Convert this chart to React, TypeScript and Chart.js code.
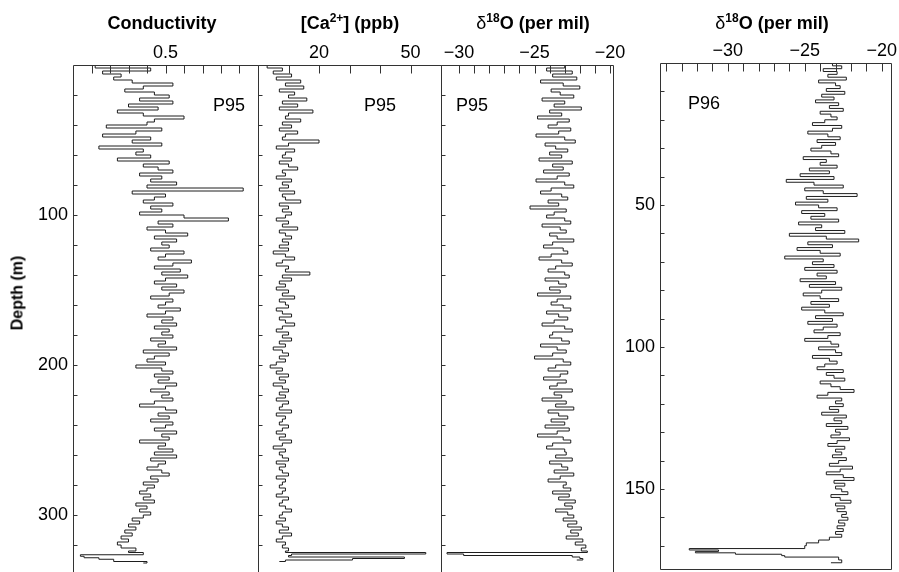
import React, { useEffect, useRef } from 'react';
import { Chart, registerables } from 'chart.js';

Chart.register(...registerables);
Chart.defaults.font.family = '"Liberation Sans", Arial, Helvetica, sans-serif';

const W = 899;
const H = 572;
const FONT = '"Liberation Sans", Arial, Helvetica, sans-serif';
const LINE = '#1e1e1e';

// ---------------- DATA ----------------
// Sampling step (m) of the main part of each P95 record
const p95Step = 2;

// Conductivity, P95, depths 0..318 m every 2 m
const condMain = [
  0.31, 0.46, 0.33, 0.38, 0.36, 0.41, 0.52, 0.44, 0.39, 0.47,
  0.51, 0.43, 0.52, 0.40, 0.48, 0.37, 0.44, 0.55, 0.47, 0.45,
  0.34, 0.49, 0.42, 0.33, 0.46, 0.41, 0.49, 0.32, 0.44, 0.42,
  0.46, 0.37, 0.51, 0.44, 0.48, 0.52, 0.43, 0.49, 0.46, 0.53,
  0.45, 0.71, 0.41, 0.50, 0.47, 0.44, 0.52, 0.46, 0.49, 0.43,
  0.55, 0.67, 0.48, 0.52, 0.45, 0.50, 0.56, 0.47, 0.53, 0.49,
  0.51, 0.46, 0.55, 0.50, 0.48, 0.57, 0.52, 0.47, 0.54, 0.49,
  0.56, 0.50, 0.47, 0.53, 0.49, 0.55, 0.51, 0.46, 0.52, 0.50,
  0.48, 0.54, 0.50, 0.45, 0.52, 0.49, 0.53, 0.47, 0.51, 0.49,
  0.52, 0.46, 0.50, 0.48, 0.53, 0.44, 0.51, 0.47, 0.45, 0.50,
  0.42, 0.49, 0.52, 0.47, 0.51, 0.48, 0.53, 0.50, 0.46, 0.51,
  0.49, 0.52, 0.47, 0.43, 0.50, 0.53, 0.48, 0.51, 0.46, 0.52,
  0.50, 0.47, 0.53, 0.49, 0.51, 0.43, 0.50, 0.48, 0.52, 0.47,
  0.53, 0.46, 0.50, 0.48, 0.45, 0.49, 0.51, 0.46, 0.48, 0.44,
  0.47, 0.45, 0.43, 0.46, 0.44, 0.47, 0.42, 0.45, 0.43, 0.46,
  0.44, 0.41, 0.43, 0.40, 0.42, 0.39, 0.41, 0.38, 0.40, 0.37,
];
const condBottomDepth = [320, 322, 324, 325, 326.5, 327.5, 328.5, 329.5, 331, 332];
const condBottomValue = [0.38, 0.42, 0.40, 0.44, 0.27, 0.28, 0.32, 0.36, 0.45, 0.44];

// [Ca2+] (ppb), P95, depths 0..318 m every 2 m
const caMain = [
  3, 8, 5, 11, 6, 14, 9, 15, 7, 12,
  10, 16, 8, 13, 7, 18, 10, 9, 14, 8,
  11, 7, 13, 9, 8, 20, 10, 6, 12, 9,
  8, 11, 7, 10, 13, 8, 9, 6, 11, 8,
  10, 7, 12, 8, 9, 14, 7, 10, 8, 11,
  9, 6, 10, 8, 13, 7, 9, 11, 8, 10,
  7, 10, 5, 9, 12, 8, 6, 10, 9, 17,
  8, 11, 7, 9, 6, 10, 8, 12, 7, 9,
  10, 6, 8, 11, 7, 9, 12, 8, 6, 10,
  8, 11, 7, 9, 5, 8, 10, 7, 9, 6,
  4, 8, 6, 10, 7, 9, 5, 8, 10, 7,
  9, 6, 10, 8, 7, 11, 6, 9, 8, 7,
  10, 8, 6, 9, 7, 11, 8, 5, 9, 7,
  8, 10, 6, 9, 7, 8, 10, 6, 9, 8,
  7, 9, 8, 6, 10, 8, 7, 9, 11, 8,
  7, 9, 6, 8, 10, 7, 11, 8, 6, 9,
];
const caBottomDepth = [320, 322, 324, 325, 326, 327, 328, 329, 330, 331];
const caBottomValue = [8, 10, 9, 55, 11, 10, 48, 31, 9, 7];

// d18O (per mil), P95, depths 0..318 m every 2 m
const d18P95Main = [
  -23.0, -24.2, -22.5, -23.8, -22.2, -24.6, -23.1, -22.0, -23.9, -23.3,
  -22.4, -24.5, -23.0, -23.7, -21.9, -24.0, -23.2, -24.8, -22.7, -23.5,
  -24.1, -22.6, -23.4, -24.9, -23.0, -22.3, -24.3, -23.6, -22.8, -24.0,
  -23.2, -24.7, -22.5, -23.8, -23.1, -24.4, -22.7, -23.5, -24.9, -23.0,
  -22.4, -23.9, -24.6, -23.2, -22.8, -24.1, -23.4, -25.3, -22.9, -23.7,
  -24.2, -23.0, -22.6, -24.5, -23.3, -22.9, -24.0, -23.5, -22.4, -23.8,
  -24.4, -23.1, -22.8, -23.9, -24.7, -23.2, -22.5, -23.6, -24.1, -23.0,
  -22.7, -24.3, -23.4, -22.9, -24.0, -23.3, -24.8, -22.6, -23.5, -23.9,
  -23.1, -22.6, -24.2, -23.4, -22.8, -23.7, -24.5, -23.0, -22.5, -23.8,
  -24.0, -23.2, -22.7, -24.6, -23.5, -22.9, -23.8, -25.0, -23.1, -22.6,
  -23.6, -24.1, -22.8, -23.3, -24.4, -22.9, -23.5, -24.0, -22.5, -23.7,
  -23.2, -24.5, -22.9, -23.6, -22.4, -24.1, -23.4, -22.8, -23.9, -23.0,
  -24.3, -22.7, -23.5, -24.8, -23.1, -22.6, -23.8, -24.2, -23.0, -22.9,
  -23.6, -22.5, -24.0, -23.2, -22.8, -23.7, -22.4, -23.3, -24.1, -22.9,
  -23.1, -22.6, -23.8, -22.7, -23.4, -22.3, -23.0, -22.5, -23.6, -22.8,
  -22.4, -23.1, -22.2, -22.8, -21.9, -22.6, -22.1, -22.9, -21.8, -22.3,
];
const d18P95BottomDepth = [320, 322, 324, 325, 326, 327, 328, 329, 330];
const d18P95BottomValue = [-21.6, -21.9, -21.5, -30.8, -29.7, -22.5, -22.0, -21.8, -22.2];

// d18O (per mil), P96, depths 0..169 m every 1 m
const p96Step = 1;
const d18P96Main = [
  -23.2, -22.6, -23.8, -22.9, -23.5, -22.3, -24.1, -23.0, -22.7, -23.6,
  -22.4, -23.9, -23.1, -24.3, -22.8, -23.4, -22.5, -24.0, -23.3, -22.9,
  -23.7, -24.5, -22.6, -23.2, -24.8, -23.5, -22.7, -24.2, -23.0, -23.9,
  -24.6, -23.3, -22.8, -25.1, -23.6, -24.0, -22.9, -24.7, -23.4, -25.3,
  -23.1, -26.2, -24.4, -22.5, -25.0, -23.8, -21.6, -24.9, -23.5, -25.6,
  -24.1, -22.9, -25.2, -23.7, -24.6, -22.8, -25.4, -23.9, -24.3, -22.4,
  -26.0, -23.6, -21.5, -24.8, -23.2, -25.5, -24.0, -22.7, -26.3, -23.8,
  -24.5, -23.1, -25.0, -22.9, -24.2, -23.6, -25.3, -23.0, -24.7, -22.6,
  -23.9, -25.1, -24.0, -22.8, -24.6, -23.4, -25.2, -23.7, -22.5, -24.3,
  -23.2, -24.8, -22.9, -23.8, -24.4, -22.7, -23.5, -25.0, -23.3, -22.8,
  -24.1, -23.0, -22.6, -24.5, -23.4, -22.9, -23.7, -24.2, -22.5, -23.6,
  -23.1, -22.4, -24.0, -23.3, -22.7, -21.8, -23.5, -24.2, -22.6, -23.0,
  -22.5, -23.4, -22.8, -23.9, -22.3, -23.1, -22.6, -23.6, -22.2, -23.0,
  -22.7, -23.3, -22.1, -22.9, -23.5, -22.4, -23.0, -22.6, -23.2, -22.3,
  -22.8, -23.4, -21.9, -22.7, -23.6, -22.5, -21.8, -23.1, -22.4, -23.0,
  -22.6, -22.2, -23.3, -22.7, -22.0, -23.0, -22.4, -22.9, -22.3, -22.6,
  -22.2, -22.8, -22.4, -22.9, -22.5, -23.0, -22.6, -23.4, -24.1, -24.9,
];
const d18P96BottomDepth = [170, 171, 171.5, 172, 172.5, 173, 173.5, 174, 175, 176];
const d18P96BottomValue = [-25.0, -32.5, -30.6, -32.1, -29.5, -26.5, -26.3, -22.8, -22.6, -23.3];

// Tick marks and labels
const condTicks = [0.3, 0.35, 0.4, 0.45, 0.5, 0.55, 0.6, 0.65, 0.7];
const condTickLabels = [0.5];
const caTicks = [10, 20, 30, 40, 50];
const caTickLabels = [20, 50];
const d18P95Ticks = [-30, -29, -28, -27, -26, -25, -24, -23, -22, -21, -20];
const d18P96Ticks = [-34, -33, -32, -31, -30, -29, -28, -27, -26, -25, -24, -23, -22, -21, -20];
const d18TickLabels = [-30, -25, -20];
const depthTicksP95 = [20, 40, 60, 80, 100, 120, 140, 160, 180, 200, 220, 240, 260, 280, 300, 320];
const depthLabelsP95 = [100, 200, 300];
const depthTicksP96 = [10, 20, 30, 40, 50, 60, 70, 80, 90, 100, 110, 120, 130, 140, 150, 160, 170];
const depthLabelsP96 = [50, 100, 150];

// ---------------- HELPERS ----------------
function toPoints(step: number, main: number[], bd: number[], bv: number[]) {
  const pts = main.map((v, i) => ({ x: v, y: i * step }));
  bd.forEach((d, i) => pts.push({ x: bv[i], y: d }));
  return pts;
}

function fmt(v: number) {
  if (v < 0) return '\u2212' + String(Math.abs(v));
  return String(v);
}

const framePlugin = {
  id: 'frame',
  afterDraw(chart: any, _args: any, opts: any) {
    const { ctx, chartArea: a, scales } = chart;
    ctx.save();
    ctx.strokeStyle = '#333';
    ctx.lineWidth = 1;
    const l = Math.round(a.left) + 0.5;
    const r = Math.round(a.right) + 0.5;
    const t = Math.round(a.top) + 0.5;
    const b = Math.round(a.bottom) + 0.5;
    ctx.beginPath();
    ctx.moveTo(l, b);
    ctx.lineTo(l, t);
    ctx.lineTo(r, t);
    ctx.lineTo(r, b);
    ctx.lineTo(l, b);
    ctx.stroke();
    ctx.beginPath();
    for (const tk of scales.x.ticks) {
      const px = Math.round(scales.x.getPixelForValue(tk.value)) + 0.5;
      ctx.moveTo(px, t);
      ctx.lineTo(px, t + opts.topLen);
    }
    for (const tk of scales.y.ticks) {
      const py = Math.round(scales.y.getPixelForValue(tk.value)) + 0.5;
      ctx.moveTo(l, py);
      ctx.lineTo(l + opts.leftLen, py);
    }
    ctx.stroke();
    ctx.restore();
  },
};

type PanelCfg = {
  left: number; right: number; top: number; bottom: number;
  xMin: number; xMax: number; xTicks: number[]; xLabels: number[];
  yMax: number; yTicks: number[]; yLabels: number[]; showY: boolean;
  points: { x: number; y: number }[];
};

const panels: PanelCfg[] = [
  {
    left: 73, right: 258, top: 65, bottom: 572,
    xMin: 0.25, xMax: 0.75, xTicks: condTicks, xLabels: condTickLabels,
    yMax: 338, yTicks: depthTicksP95, yLabels: depthLabelsP95, showY: true,
    points: toPoints(p95Step, condMain, condBottomDepth, condBottomValue),
  },
  {
    left: 258, right: 441, top: 65, bottom: 572,
    xMin: 0, xMax: 60, xTicks: caTicks, xLabels: caTickLabels,
    yMax: 338, yTicks: depthTicksP95, yLabels: [], showY: false,
    points: toPoints(p95Step, caMain, caBottomDepth, caBottomValue),
  },
  {
    left: 441, right: 613, top: 65, bottom: 572,
    xMin: -31.2, xMax: -19.8, xTicks: d18P95Ticks, xLabels: d18TickLabels,
    yMax: 338, yTicks: depthTicksP95, yLabels: [], showY: false,
    points: toPoints(p95Step, d18P95Main, d18P95BottomDepth, d18P95BottomValue),
  },
  {
    left: 660, right: 891, top: 63, bottom: 569,
    xMin: -34.4, xMax: -19.4, xTicks: d18P96Ticks, xLabels: d18TickLabels,
    yMax: 178.2, yTicks: depthTicksP96, yLabels: depthLabelsP96, showY: true,
    points: toPoints(p96Step, d18P96Main, d18P96BottomDepth, d18P96BottomValue),
  },
];

const X_AXIS_H = 30;
const Y_AXIS_W = 40;

function Panel({ cfg }: { cfg: PanelCfg }) {
  const ref = useRef<HTMLCanvasElement>(null);
  useEffect(() => {
    const yW = cfg.showY ? Y_AXIS_W : 0;
    const chart = new Chart(ref.current as HTMLCanvasElement, {
      type: 'scatter',
      data: {
        datasets: [
          {
            data: cfg.points,
            showLine: true,
            stepped: 'after',
            borderColor: LINE,
            borderWidth: 1,
            pointRadius: 0,
            fill: false,
          } as any,
        ],
      },
      plugins: [framePlugin],
      options: {
        animation: false,
        responsive: false,
        devicePixelRatio: 1,
        events: [],
        layout: {
          autoPadding: false,
          padding: {
            left: cfg.left - yW,
            top: cfg.top - X_AXIS_H,
            right: W - cfg.right,
            bottom: H - cfg.bottom,
          },
        },
        plugins: {
          legend: { display: false },
          tooltip: { enabled: false },
          frame: { topLen: 8, leftLen: 4 },
        } as any,
        scales: {
          x: {
            type: 'linear',
            position: 'top',
            min: cfg.xMin,
            max: cfg.xMax,
            afterBuildTicks: (s: any) => {
              s.ticks = cfg.xTicks.map((v) => ({ value: v }));
            },
            afterFit: (s: any) => {
              s.height = X_AXIS_H;
              s.paddingLeft = 0;
              s.paddingRight = 0;
            },
            ticks: {
              autoSkip: false,
              maxRotation: 0,
              padding: 1,
              color: '#000',
              font: { family: FONT, size: 18 },
              callback: (v: any) =>
                cfg.xLabels.some((l) => Math.abs(l - Number(v)) < 1e-9) ? fmt(Number(v)) : '',
            },
            grid: { display: false, drawTicks: false },
            border: { display: false },
          },
          y: {
            type: 'linear',
            position: 'left',
            reverse: true,
            min: 0,
            max: cfg.yMax,
            afterBuildTicks: (s: any) => {
              s.ticks = cfg.yTicks.map((v) => ({ value: v }));
            },
            afterFit: (s: any) => {
              s.width = yW;
              s.paddingTop = 0;
              s.paddingBottom = 0;
            },
            ticks: {
              display: cfg.showY,
              autoSkip: false,
              padding: 5,
              color: '#000',
              font: { family: FONT, size: 18 },
              callback: (v: any) =>
                cfg.yLabels.some((l) => Math.abs(l - Number(v)) < 1e-9) ? String(v) : '',
            },
            grid: { display: false, drawTicks: false },
            border: { display: false },
          },
        },
      } as any,
    });
    return () => chart.destroy();
  }, [cfg]);
  return (
    <canvas
      ref={ref}
      width={W}
      height={H}
      style={{ position: 'absolute', left: 0, top: 0, width: W, height: H }}
    />
  );
}

const titleBase: React.CSSProperties = {
  position: 'absolute',
  fontFamily: FONT,
  fontWeight: 'bold',
  fontSize: 18,
  lineHeight: '20px',
  color: '#000',
  whiteSpace: 'nowrap',
  transform: 'translateX(-50%)',
};

const sup: React.CSSProperties = { fontSize: 12, position: 'relative', top: -7 };

const plainLabel: React.CSSProperties = {
  position: 'absolute',
  fontFamily: FONT,
  fontSize: 18,
  lineHeight: '20px',
  color: '#000',
  whiteSpace: 'nowrap',
  transform: 'translateX(-50%)',
};

function Delta18() {
  return (
    <>
      <span style={{ fontWeight: 'normal' }}>δ</span>
      <span style={sup}>18</span>O (per mil)
    </>
  );
}

export default function App() {
  return (
    <div style={{ position: 'absolute', left: 0, top: 0, width: W, height: H, background: '#fff', overflow: 'hidden' }}>
      {panels.map((p, i) => (
        <Panel key={i} cfg={p} />
      ))}
      <div style={{ ...titleBase, left: 162, top: 13 }}>Conductivity</div>
      <div style={{ ...titleBase, left: 350, top: 13 }}>
        [Ca<span style={sup}>2+</span>] (ppb)
      </div>
      <div style={{ ...titleBase, left: 533, top: 13 }}>
        <Delta18 />
      </div>
      <div style={{ ...titleBase, left: 772, top: 13 }}>
        <Delta18 />
      </div>
      <div style={{ ...plainLabel, left: 229, top: 95 }}>P95</div>
      <div style={{ ...plainLabel, left: 380, top: 95 }}>P95</div>
      <div style={{ ...plainLabel, left: 472, top: 95 }}>P95</div>
      <div style={{ ...plainLabel, left: 704, top: 93 }}>P96</div>
      <div
        style={{
          position: 'absolute',
          left: 17,
          top: 293,
          fontFamily: FONT,
          fontWeight: 'bold',
          fontSize: 16,
          lineHeight: '17px',
          whiteSpace: 'nowrap',
          transform: 'translate(-50%, -50%) rotate(-90deg)',
        }}
      >
        Depth (m)
      </div>
    </div>
  );
}
